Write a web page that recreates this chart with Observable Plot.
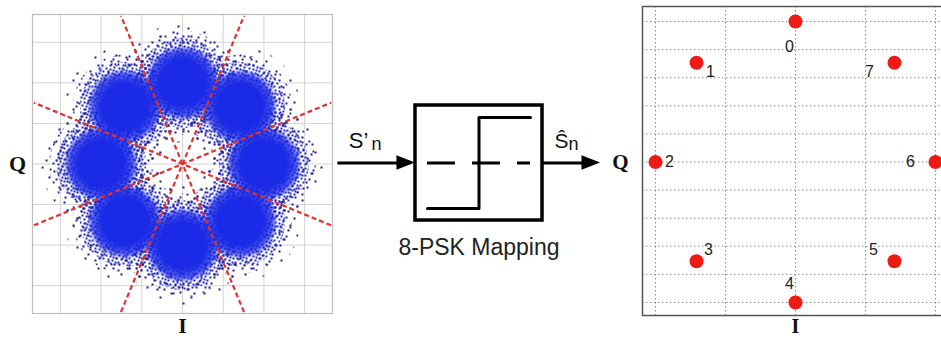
<!DOCTYPE html>
<html><head><meta charset="utf-8">
<script src="https://cdn.jsdelivr.net/npm/d3@7"></script>
<script src="https://cdn.jsdelivr.net/npm/@observablehq/plot@0.6"></script>
<style>
body{margin:0;background:#fff;}
#wrap{position:relative;width:941px;height:338px;overflow:hidden;background:#fff;}
#wrap svg{position:absolute;}
</style></head><body><div id="wrap"></div>
<script>
// ---------- Left panel: received 8-PSK samples ----------
const clusterAngles = [90, 45, 0, -45, -90, -135, 180, 135];   // degrees
const clusterRadius = 2.0;
const boundaryAngles = [22.5, 67.5, 112.5, 157.5];              // decision boundaries
const boundaryHalfLength = 3.95;
const leftTicks = [-3, -2, -1, 0, 1, 2, 3];
const leftDomain = [-3.685, 3.685];

// ---------- Middle: mapping block ----------
const stepU = [-1, 0, 0, 1];
const stepV = [-1, -1, 1, 1];
const boxU = [-1.233, 1.233];
const boxV = [-1.264, 1.264];
const arrowFrom = [-2.75, 1.233];
const arrowTo = [-1.233, 2.36];
const arrowMain = ["S\u2019", "\u015C"];
const arrowSub = ["n", "n"];
const blockTitle = "8-PSK Mapping";

// ---------- Right panel: ideal constellation ----------
const symbolLabels = ["0", "1", "2", "3", "4", "5", "6", "7"];
const symbolI = [0, -0.707, -1, -0.707, 0, 0.707, 1, 0.707];
const symbolQ = [1, 0.707, 0, -0.707, -1, -0.707, 0, 0.707];
const rightTicksI = [-1, -0.5, 0, 0.5, 1];
const rightTicksQ = [-1, -0.8, -0.6, -0.4, -0.2, 0, 0.2, 0.4, 0.6, 0.8, 1];
const labelDx = [-6, 14, 14, 12, -6, -21, -25, -25];
const labelDy = [25, 9, 0, -11, -19, -11, 0, 9];

const SANS = "'Liberation Sans', Arial, Helvetica, sans-serif";
const SERIF = "'Liberation Serif', 'Times New Roman', serif";
const wrap = document.getElementById("wrap");

// ===== Left plot =====
const clusters = clusterAngles.map(a => ({
  x: clusterRadius * Math.cos(a * Math.PI / 180),
  y: clusterRadius * Math.sin(a * Math.PI / 180)
}));
const bounds = boundaryAngles.map(a => {
  const c = Math.cos(a * Math.PI / 180), s = Math.sin(a * Math.PI / 180);
  return {x1: -boundaryHalfLength * c, y1: -boundaryHalfLength * s, x2: boundaryHalfLength * c, y2: boundaryHalfLength * s};
});
const left = Plot.plot({
  width: 334, height: 338,
  marginLeft: 32, marginRight: 2, marginTop: 14, marginBottom: 25,
  style: {background: "none", overflow: "visible"},
  x: {domain: leftDomain, axis: null},
  y: {domain: leftDomain, axis: null},
  marks: [
    Plot.gridX(leftTicks, {stroke: "#d4d4d4", strokeOpacity: 1}),
    Plot.gridY(leftTicks, {stroke: "#d4d4d4", strokeOpacity: 1}),
    Plot.frame({stroke: "#bdbdbd", strokeWidth: 1.2}),
    Plot.dot(clusters, {x: "x", y: "y", r: 60, fill: "url(#speckC)"}),
    Plot.dot(clusters, {x: "x", y: "y", r: 52, fill: "url(#speckA)"}),
    Plot.dot(clusters, {x: "x", y: "y", r: 45, fill: "url(#speckB)"}),
    Plot.dot(clusters, {x: "x", y: "y", r: 38, fill: "url(#coreGrad)"}),
    Plot.link(bounds, {x1: "x1", y1: "y1", x2: "x2", y2: "y2", stroke: "#e0332f", strokeWidth: 2.2, strokeDasharray: "5,3"}),
    Plot.text(["Q"], {x: leftDomain[0], y: 0, text: d => d, dx: -15, fontSize: 22, fontWeight: "bold", fontFamily: SERIF, fill: "#111"}),
    Plot.text(["I"], {x: 0, y: leftDomain[0], text: d => d, dy: 12, fontSize: 22, fontWeight: "bold", fontFamily: SERIF, fill: "#111"})
  ]
});
{
  const defs = d3.select(left).insert("defs", ":first-child");
  const rg = defs.append("radialGradient").attr("id", "coreGrad");
  [[0, 1], [0.6, 1], [0.85, 0.75], [1, 0]].forEach(([o, a]) =>
    rg.append("stop").attr("offset", o).attr("stop-color", "#1a2ae6").attr("stop-opacity", a));
  const pa = defs.append("pattern").attr("id", "speckA").attr("width", 23).attr("height", 19).attr("patternUnits", "userSpaceOnUse");
  [[2,3],[11,1],[18,6],[6,10],[15,13],[21,16],[3,16],[9,7],[13,17],[20,1]].forEach(([x, y]) =>
    pa.append("rect").attr("x", x).attr("y", y).attr("width", 2).attr("height", 2).attr("fill", "#1f1f9c"));
  const pb = defs.append("pattern").attr("id", "speckB").attr("width", 13).attr("height", 11).attr("patternUnits", "userSpaceOnUse");
  [[1,1],[5,2],[9,0],[11,4],[3,5],[7,6],[0,8],[5,9],[10,8],[12,10],[8,3]].forEach(([x, y]) =>
    pb.append("rect").attr("x", x).attr("y", y).attr("width", 2).attr("height", 2).attr("fill", "#2326c0"));
  const pc = defs.append("pattern").attr("id", "speckC").attr("width", 31).attr("height", 29).attr("patternUnits", "userSpaceOnUse");
  [[4,6],[17,2],[27,12],[10,21],[22,25],[1,27],[14,14]].forEach(([x, y]) =>
    pc.append("rect").attr("x", x).attr("y", y).attr("width", 2).attr("height", 2).attr("fill", "#1f1f8c"));
}
left.style.left = "0px"; left.style.top = "0px";
wrap.appendChild(left);

// ===== Middle block =====
const headLen = 0.36, headHalf = 0.16;
const arrows = arrowFrom.map((f, i) => ({k: i, from: f, to: arrowTo[i], mid: (f + arrowTo[i]) / 2, main: arrowMain[i], sub: arrowSub[i]}));
const heads = arrows.flatMap(a => [
  {k: a.k, x: a.to - headLen, lo: -headHalf, hi: headHalf},
  {k: a.k, x: a.to, lo: 0, hi: 0}
]);
const steps = stepU.map((u, i) => ({u, v: stepV[i]}));
const middle = Plot.plot({
  width: 280, height: 220,
  margin: 0,
  style: {background: "none", overflow: "visible"},
  x: {domain: [-2.786, 2.650], axis: null},
  y: {domain: [-2.582, 2.253], axis: null},
  marks: [
    Plot.link(arrows, {x1: "from", x2: a => a.to - headLen * 0.9, y1: 0, y2: 0, stroke: "black", strokeWidth: 3}),
    Plot.area(heads, {x1: "x", y1: "lo", y2: "hi", z: "k", fill: "black"}),
    Plot.rect([0], {x1: boxU[0], x2: boxU[1], y1: boxV[0], y2: boxV[1], fill: "none", stroke: "black", strokeWidth: 3.5}),
    Plot.ruleY([0], {x1: stepU[0], x2: stepU[3], stroke: "black", strokeWidth: 3, strokeDasharray: "28,17"}),
    Plot.line(steps, {x: "u", y: "v", stroke: "black", strokeWidth: 3}),
    Plot.text(arrows, {x: "mid", y: 0, text: "main", textAnchor: "end", lineAnchor: "bottom", dx: -8, dy: -15, fontSize: 22, fontFamily: SANS, fill: "#111", filter: a => a.k === 0}),
    Plot.text(arrows, {x: "mid", y: 0, text: "sub", textAnchor: "start", lineAnchor: "bottom", dx: -5, dy: -13, fontSize: 18, fontFamily: SANS, fill: "#111", filter: a => a.k === 0}),
    Plot.text(arrows, {x: "mid", y: 0, text: "main", textAnchor: "end", lineAnchor: "bottom", dx: -3, dy: -15, fontSize: 21, fontFamily: SANS, fill: "#111", filter: a => a.k === 1}),
    Plot.text(arrows, {x: "mid", y: 0, text: "sub", textAnchor: "start", lineAnchor: "bottom", dx: -3, dy: -13, fontSize: 18, fontFamily: SANS, fill: "#111", filter: a => a.k === 1}),
    Plot.text([blockTitle], {x: 0, y: boxV[0], text: d => d, dy: 27, fontSize: 23, fontFamily: SANS, fill: "#222"})
  ]
});
middle.style.left = "335px"; middle.style.top = "60px";
wrap.appendChild(middle);

// ===== Right plot =====
const symbols = symbolLabels.map((l, i) => ({l, i, x: symbolI[i], y: symbolQ[i]}));
const right = Plot.plot({
  width: 350, height: 338,
  marginLeft: 42, marginRight: 2, marginTop: 6, marginBottom: 23,
  style: {background: "none", overflow: "visible"},
  x: {domain: [-1.093, 1.093], axis: null},
  y: {domain: [-1.093, 1.107], axis: null},
  marks: [
    Plot.gridX(rightTicksI, {stroke: "#8a8a8a", strokeOpacity: 1, strokeDasharray: "1.5,2.5"}),
    Plot.gridY(rightTicksQ, {stroke: "#8a8a8a", strokeOpacity: 1, strokeDasharray: "1.5,2.5"}),
    Plot.frame({stroke: "#555", strokeWidth: 1.5}),
    Plot.dot(symbols, {x: "x", y: "y", r: 7, fill: "#ee1a14"}),
    ...symbols.map(s => Plot.text([s], {x: "x", y: "y", text: "l", dx: labelDx[s.i], dy: labelDy[s.i], fontSize: 16, fontFamily: SANS, fill: "#222"})),
    Plot.text(["Q"], {x: -1.093, y: 0, text: d => d, dx: -22, fontSize: 21, fontWeight: "bold", fontFamily: SERIF, fill: "#111"}),
    Plot.text(["I"], {x: 0, y: -1.093, text: d => d, dy: 11, fontSize: 20, fontWeight: "bold", fontFamily: SERIF, fill: "#111"})
  ]
});
right.style.left = "600px"; right.style.top = "0px";
wrap.appendChild(right);
</script>
</body></html>
